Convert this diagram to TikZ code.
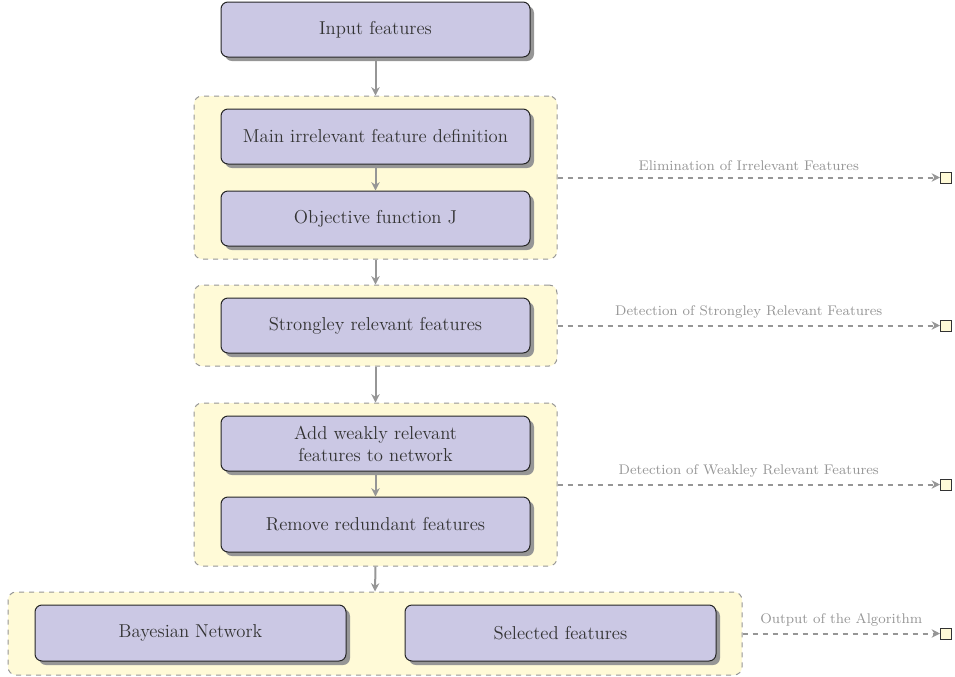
\documentclass[tikz,border=0pt]{standalone}
\usetikzlibrary{shadows,arrows.meta}
\definecolor{boxfill}{RGB}{203,200,228}
\definecolor{grpfill}{RGB}{255,250,215}
\definecolor{arrgray}{RGB}{150,150,150}
\definecolor{shadowgray}{RGB}{150,150,150}
\begin{document}
\begin{tikzpicture}[x=0.6pt,y=-0.6pt,
  procbox/.style={draw=black!85,line width=0.6pt,fill=boxfill,rounded corners=7*0.6pt,
    minimum width=309*0.6pt,minimum height=55*0.6pt,inner sep=0pt,align=center,
    text=black!80,font=\fontsize{11.2}{13.2}\selectfont,
    drop shadow={shadow xshift=4*0.6pt,shadow yshift=-4*0.6pt,fill=shadowgray,opacity=1}},
  grpbox/.style={draw=arrgray,dashed,line width=0.6pt,fill=grpfill,rounded corners=8*0.6pt,inner sep=0pt},
  endsq/.style={draw=black!80,line width=0.6pt,fill=grpfill,minimum size=11*0.6pt,inner sep=0pt},
  flow/.style={draw=arrgray,line width=1.2pt,-{Stealth[length=5pt,width=5pt]}},
  outarr/.style={draw=arrgray,line width=1.2pt,dashed,-{Stealth[length=5pt,width=5pt]}},
  lbl/.style={font=\fontsize{8.4}{10}\selectfont,text=arrgray,inner sep=2pt,yshift=1.5pt}]
\useasboundingbox (0,0) rectangle (955,677);
% groups
\node[grpbox,minimum width=363*0.6pt,minimum height=163*0.6pt] (g1) at (375.5,177.5) {};
\node[grpbox,minimum width=363*0.6pt,minimum height=81*0.6pt] (g2) at (375.5,325.5) {};
\node[grpbox,minimum width=363*0.6pt,minimum height=163*0.6pt] (g3) at (375.5,484.5) {};
\node[grpbox,minimum width=734*0.6pt,minimum height=83*0.6pt] (g4) at (375,633.5) {};
% boxes
\node[procbox] (inp) at (375.5,29.5) {Input features};
\node[procbox] (mif) at (375.5,136.5) {Main irrelevant feature definition};
\node[procbox] (obj) at (375.5,218.5) {Objective function J};
\node[procbox] (srf) at (375.5,325.5) {Strongley relevant features};
\node[procbox] (awr) at (375.5,443.5) {Add weakly relevant\\features to network};
\node[procbox] (rrf) at (375.5,524.5) {Remove redundant features};
\node[procbox,minimum width=311*0.6pt,minimum height=56*0.6pt] (bn) at (190.5,633) {Bayesian Network};
\node[procbox,minimum width=311*0.6pt,minimum height=56*0.6pt] (sel) at (560.5,633) {Selected features};
% end squares
\node[endsq] (e1) at (946,177.5) {};
\node[endsq] (e2) at (946,325.5) {};
\node[endsq] (e3) at (946,484.5) {};
\node[endsq] (e4) at (946,633.5) {};
% flow arrows
\draw[flow] (inp.south) -- (g1.north);
\draw[flow] (mif.south) -- (obj.north);
\draw[flow] (g1.south) -- (g2.north);
\draw[flow] (g2.south) -- (g3.north);
\draw[flow] (awr.south) -- (rrf.north);
\draw[flow] (g3.south) -- (g4.north);
% output arrows
\draw[outarr] (g1.east) -- node[lbl,above] {Elimination of Irrelevant Features} (e1.west);
\draw[outarr] (g2.east) -- node[lbl,above] {Detection of Strongley Relevant Features} (e2.west);
\draw[outarr] (g3.east) -- node[lbl,above] {Detection of Weakley Relevant Features} (e3.west);
\draw[outarr] (g4.east) -- node[lbl,above] {Output of the Algorithm} (e4.west);
\end{tikzpicture}
\end{document}
